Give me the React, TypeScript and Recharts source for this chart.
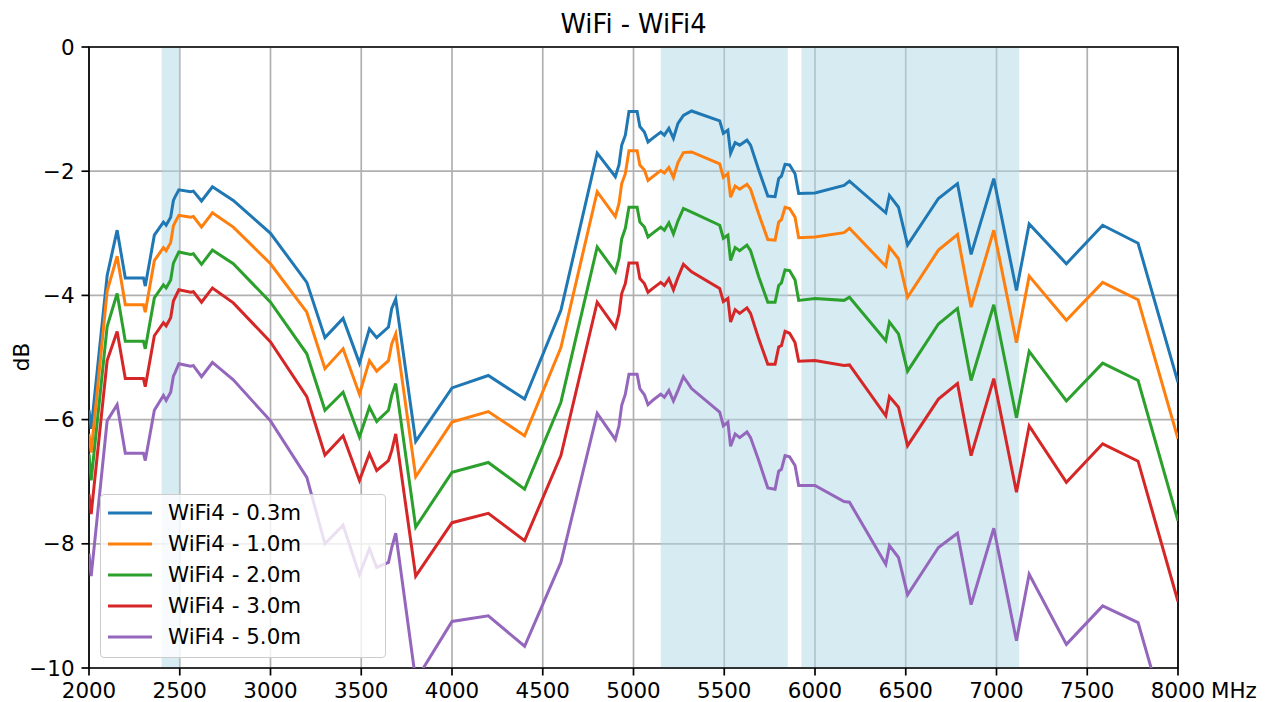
import { LineChart, Line, XAxis, YAxis, CartesianGrid, ReferenceArea } from 'recharts';

const FONT = '"DejaVu Sans", sans-serif';
const W = 1274;
const H = 702;

// frequency samples (MHz)
const freqs = [
  2000, 2012, 2100, 2155, 2200, 2300, 2310, 2360, 2410, 2425, 2450, 2465, 2475, 2495, 2560, 2575, 2620, 2680, 2795, 3000,
  3200, 3300, 3400, 3490, 3545, 3585, 3650, 3668, 3690, 3800,
  4000, 4200, 4400, 4600, 4800, 4900, 4920, 4935, 4955, 4975,
  5020, 5035, 5060, 5080, 5110, 5150, 5170, 5195, 5220, 5245,
  5275, 5320, 5475, 5495, 5520, 5535, 5560, 5585, 5625, 5645,
  5690, 5740, 5780, 5800, 5815, 5835, 5860, 5890, 5910, 6000,
  6160, 6190, 6390, 6410, 6460, 6510, 6680, 6785, 6860, 6985,
  7110, 7180, 7385, 7585, 7780, 8000,
];

const d03 = [
  -5.85, -6.15, -3.68, -2.95, -3.72, -3.72, -3.85, -3.03, -2.82, -2.87, -2.74, -2.47, -2.41, -2.3, -2.33, -2.32, -2.48, -2.25, -2.47, -3.0,
  -3.79, -4.68, -4.37, -5.09, -4.54, -4.68, -4.51, -4.21, -4.06, -6.35,
  -5.49, -5.29, -5.67, -4.24, -1.71, -2.09, -1.9, -1.58, -1.42, -1.04,
  -1.04, -1.28, -1.37, -1.53, -1.46, -1.37, -1.42, -1.31, -1.47, -1.23,
  -1.1, -1.03, -1.19, -1.39, -1.34, -1.71, -1.54, -1.58, -1.5, -1.58,
  -1.98, -2.4, -2.41, -2.12, -2.08, -1.89, -1.9, -2.04, -2.36, -2.35,
  -2.23, -2.16, -2.67, -2.39, -2.58, -3.19, -2.44, -2.2, -3.34, -2.12,
  -3.92, -2.85, -3.49, -2.87, -3.16, -5.4,
];

const d10 = [
  -6.23, -6.53, -3.93, -3.37, -4.15, -4.15, -4.27, -3.44, -3.23, -3.28, -3.15, -2.88, -2.82, -2.71, -2.74, -2.73, -2.9, -2.67, -2.9, -3.49,
  -4.27, -5.18, -4.86, -5.59, -5.05, -5.22, -5.05, -4.78, -4.62, -6.92,
  -6.04, -5.87, -6.26, -4.84, -2.33, -2.73, -2.52, -2.2, -2.04, -1.67,
  -1.67, -1.9, -1.98, -2.15, -2.08, -1.99, -2.03, -1.94, -2.1, -1.86,
  -1.7, -1.69, -1.88, -2.1, -2.04, -2.42, -2.24, -2.29, -2.21, -2.29,
  -2.69, -3.1, -3.11, -2.82, -2.78, -2.58, -2.6, -2.74, -3.07, -3.06,
  -2.99, -2.92, -3.53, -3.22, -3.41, -4.03, -3.27, -3.02, -4.19, -2.95,
  -4.76, -3.69, -4.4, -3.79, -4.07, -6.31,
];

const d20 = [
  -6.55, -6.98, -4.5, -3.97, -4.74, -4.74, -4.86, -4.04, -3.83, -3.88, -3.75, -3.48, -3.42, -3.3, -3.34, -3.33, -3.5, -3.27, -3.49, -4.11,
  -4.94, -5.85, -5.56, -6.28, -5.8, -6.03, -5.85, -5.61, -5.42, -7.73,
  -6.85, -6.69, -7.12, -5.72, -3.22, -3.62, -3.41, -3.09, -2.92, -2.58,
  -2.58, -2.82, -2.9, -3.06, -2.99, -2.9, -2.95, -2.83, -3.01, -2.8,
  -2.6, -2.66, -2.87, -3.08, -3.03, -3.44, -3.23, -3.28, -3.19, -3.28,
  -3.7, -4.11, -4.11, -3.84, -3.8, -3.59, -3.6, -3.75, -4.08, -4.05,
  -4.08, -4.03, -4.73, -4.43, -4.62, -5.22, -4.46, -4.21, -5.37, -4.15,
  -5.97, -4.9, -5.7, -5.09, -5.37, -7.63,
];

const d30 = [
  -7.2, -7.52, -5.05, -4.58, -5.34, -5.34, -5.47, -4.65, -4.44, -4.49, -4.36, -4.09, -4.03, -3.91, -3.95, -3.94, -4.11, -3.88, -4.12, -4.75,
  -5.63, -6.57, -6.26, -6.98, -6.55, -6.82, -6.66, -6.5, -6.23, -8.52,
  -7.66, -7.51, -7.95, -6.58, -4.11, -4.52, -4.3, -3.97, -3.81, -3.48,
  -3.48, -3.73, -3.81, -3.95, -3.88, -3.79, -3.84, -3.73, -3.91, -3.71,
  -3.5, -3.62, -3.89, -4.1, -4.05, -4.43, -4.23, -4.29, -4.2, -4.29,
  -4.7, -5.11, -5.11, -4.83, -4.81, -4.58, -4.61, -4.76, -5.06, -5.05,
  -5.13, -5.12, -5.94, -5.63, -5.8, -6.42, -5.67, -5.42, -6.58, -5.34,
  -7.17, -6.1, -7.01, -6.39, -6.67, -8.93,
];

const d50 = [
  -8.16, -8.52, -6.02, -5.76, -6.54, -6.54, -6.66, -5.85, -5.61, -5.69, -5.56, -5.3, -5.24, -5.1, -5.14, -5.13, -5.31, -5.08, -5.36, -6.02,
  -6.93, -8.0, -7.7, -8.5, -8.08, -8.38, -8.3, -8.06, -7.83, -10.2,
  -9.25, -9.16, -9.65, -8.3, -5.9, -6.32, -6.1, -5.77, -5.59, -5.27,
  -5.27, -5.5, -5.6, -5.76, -5.68, -5.59, -5.64, -5.53, -5.7, -5.53,
  -5.31, -5.5, -5.88, -6.1, -6.04, -6.43, -6.23, -6.29, -6.2, -6.29,
  -6.66, -7.1, -7.12, -6.83, -6.8, -6.58, -6.6, -6.74, -7.06, -7.06,
  -7.32, -7.33, -8.33, -8.03, -8.22, -8.82, -8.06, -7.83, -8.98, -7.75,
  -9.56, -8.49, -9.62, -9.0, -9.27, -11.5,
];

const series = [
  { key: 'd03', name: 'WiFi4 - 0.3m', color: '#1f77b4', values: d03 },
  { key: 'd10', name: 'WiFi4 - 1.0m', color: '#ff7f0e', values: d10 },
  { key: 'd20', name: 'WiFi4 - 2.0m', color: '#2ca02c', values: d20 },
  { key: 'd30', name: 'WiFi4 - 3.0m', color: '#d62728', values: d30 },
  { key: 'd50', name: 'WiFi4 - 5.0m', color: '#9467bd', values: d50 },
];

// WiFi bands shaded in the background
const bands = [
  [2400, 2500],
  [5150, 5850],
  [5925, 7125],
];

const xTicks = [2000, 2500, 3000, 3500, 4000, 4500, 5000, 5500, 6000, 6500, 7000, 7500, 8000];
const yTicks = [-10, -8, -6, -4, -2, 0];

const rows = freqs.map((f, i) => {
  const r: Record<string, number> = { f };
  series.forEach((s) => (r[s.key] = s.values[i]));
  return r;
});

const tickStyle = { fill: '#000', fontSize: 21.4, fontFamily: FONT };

// legend box drawn over the plot, like matplotlib's semi-opaque frame
function LegendBox() {
  return (
    <div
      style={{
        position: 'absolute',
        left: 100,
        top: 494,
        zIndex: 5,
        width: 286,
        boxSizing: 'border-box',
        border: '1px solid #cccccc',
        borderRadius: 4,
        background: 'rgba(255,255,255,0.8)',
        padding: '2px 0 5px 7px',
        fontFamily: FONT,
      }}
    >
      {series.map((s) => (
        <div key={s.key} style={{ display: 'flex', alignItems: 'center', height: 31 }}>
          <svg width={44} height={6} style={{ display: 'block' }}>
            <line x1={0} y1={3} x2={44} y2={3} stroke={s.color} strokeWidth={3} />
          </svg>
          <span style={{ marginLeft: 16, fontSize: 21.4, lineHeight: '31px', color: '#000' }}>{s.name}</span>
        </div>
      ))}
    </div>
  );
}

export default function App() {
  return (
    <div style={{ position: 'absolute', left: 0, top: 0, width: W, height: H, background: '#fff', fontFamily: FONT }}>
      <div
        style={{
          position: 'absolute',
          left: 89,
          width: 1089,
          top: 12,
          textAlign: 'center',
          fontSize: 25.7,
          lineHeight: 1,
          color: '#000',
        }}
      >
        WiFi - WiFi4
      </div>
      <div
        style={{
          position: 'absolute',
          left: 22,
          top: 357,
          transform: 'translate(-50%, -50%) rotate(-90deg)',
          fontSize: 21.4,
          lineHeight: 1,
          color: '#000',
        }}
      >
        dB
      </div>
      <div style={{ position: 'absolute', left: 1211, top: 680, fontSize: 21.4, lineHeight: 1, color: '#000' }}>MHz</div>
      <LineChart width={W} height={H} data={rows} margin={{ top: 47, right: 96, bottom: 0, left: 29 }}>
        {bands.map(([a, b]) => (
          <ReferenceArea key={a} x1={a} x2={b} fill="#add8e6" fillOpacity={0.5} stroke="none" />
        ))}
        <CartesianGrid stroke="#b0b0b0" strokeWidth={1.7} horizontalValues={yTicks} verticalValues={xTicks} />
        <XAxis
          dataKey="f"
          type="number"
          domain={[2000, 8000]}
          ticks={xTicks}
          allowDataOverflow
          height={34}
          axisLine={false}
          tickLine={{ stroke: '#000', strokeWidth: 1.7 }}
          tickSize={7.5}
          tickMargin={7}
          tick={tickStyle}
          interval={0}
        />
        <YAxis
          type="number"
          domain={[-10, 0]}
          ticks={yTicks}
          allowDataOverflow
          width={60}
          axisLine={false}
          tickLine={{ stroke: '#000', strokeWidth: 1.7 }}
          tickSize={7.5}
          tickMargin={7}
          tick={tickStyle}
          interval={0}
          tickFormatter={(v: number) => String(v).replace('-', '\u2212')}
        />
        {series.map((s) => (
          <Line
            key={s.key}
            type="linear"
            dataKey={s.key}
            name={s.name}
            stroke={s.color}
            strokeWidth={3}
            dot={false}
            activeDot={false}
            isAnimationActive={false}
          />
        ))}
        <ReferenceArea x1={2000} x2={8000} y1={-10} y2={0} fill="none" stroke="#000" strokeWidth={1.7} />
      </LineChart>
      <LegendBox />
    </div>
  );
}
